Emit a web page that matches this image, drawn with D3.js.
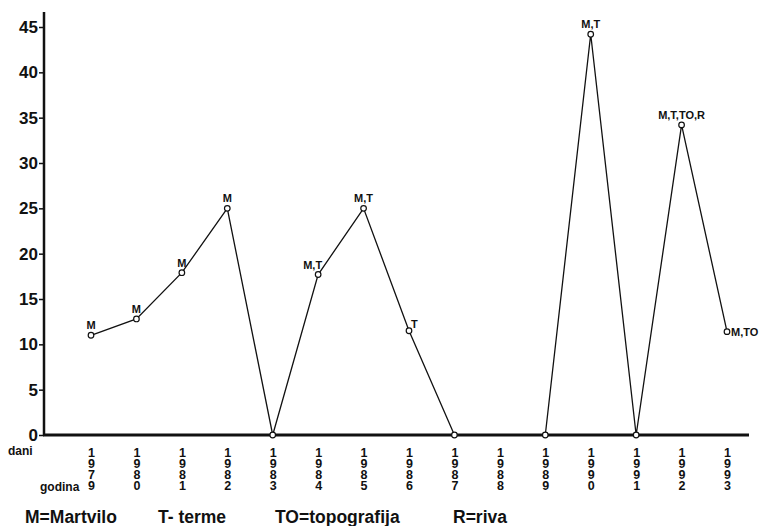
<!DOCTYPE html>
<html>
<head>
<meta charset="utf-8">
<script src="https://cdn.jsdelivr.net/npm/d3@7"></script>
<style>
  body { margin: 0; background: #fff; }
  svg { font-family: "Liberation Sans", Arial, sans-serif; }
</style>
</head>
<body>
<svg id="canvas"></svg>
<script>
const years = [1979, 1980, 1981, 1982, 1983, 1984, 1985, 1986, 1987, 1988, 1989, 1990, 1991, 1992, 1993];
const days = [11, 12.8, 17.9, 25, 0, 17.7, 25, 11.5, 0, null, 0, 44.2, 0, 34.2, 11.4];
const pointLabels = ["M", "M", "M", "M", "", "M,T", "M,T", "T", "", "", "", "M,T", "", "M,T,TO,R", "M,TO"];
const yTicks = [0, 5, 10, 15, 20, 25, 30, 35, 40, 45];
const legendItems = ["M=Martvilo", "T- terme", "TO=topografija", "R=riva"];

const width = 765;
const height = 526;

const canvas = d3.select("#canvas").attr("width", width).attr("height", height);

const xScale = d3.scaleLinear().domain([1979, 1993]).range([91, 727]);
const yScale = d3.scaleLinear().domain([0, 45]).range([435, 27]);

// y axis
const yAxis = d3.axisLeft(yScale).tickValues(yTicks).tickSize(5).tickPadding(1);
const gy = canvas.append("g").attr("transform", "translate(44,0)").call(yAxis);
gy.select(".domain").remove();
gy.selectAll(".tick line").attr("stroke", "#111").attr("stroke-width", 1.5);
gy.selectAll(".tick text")
  .attr("font-size", 17).attr("font-weight", "bold").attr("fill", "#111");
canvas.append("line")
  .attr("x1", 44).attr("x2", 44).attr("y1", 12).attr("y2", yScale(0) + 1)
  .attr("stroke", "#111").attr("stroke-width", 2.5);

// x axis, year digits stacked
const xAxis = d3.axisBottom(xScale).tickValues(years).tickSize(0).tickFormat("");
const gx = canvas.append("g").attr("transform", `translate(0,${yScale(0)})`).call(xAxis);
gx.select(".domain").remove();
canvas.append("line")
  .attr("x1", 43).attr("x2", 749).attr("y1", yScale(0)).attr("y2", yScale(0))
  .attr("stroke", "#111").attr("stroke-width", 3);

gx.selectAll(".tick").each(function (d) {
  const t = d3.select(this).append("text")
    .attr("text-anchor", "middle").attr("font-size", 12.5).attr("font-weight", "bold")
    .attr("fill", "#111");
  String(d).split("").forEach((c, i) => {
    t.append("tspan").attr("x", 0).attr("y", 22 + i * 11).text(c);
  });
});

canvas.append("text").attr("x", 8).attr("y", 455)
  .attr("font-size", 12).attr("font-weight", "bold").attr("fill", "#111").text("dani");
canvas.append("text").attr("x", 40).attr("y", 491)
  .attr("font-size", 12).attr("font-weight", "bold").attr("fill", "#111").text("godina");

// line and points
const line = d3.line()
  .defined((d) => d.v !== null)
  .x((d) => xScale(d.year))
  .y((d) => yScale(d.v));

const points = years.map((y, i) => ({ year: y, v: days[i], label: pointLabels[i] }));

canvas.append("path")
  .datum(points)
  .attr("d", line)
  .attr("fill", "none")
  .attr("stroke", "#111")
  .attr("stroke-width", 1.3);

canvas.selectAll("circle")
  .data(points.filter((d) => d.v !== null))
  .enter()
  .append("circle")
  .attr("cx", (d) => xScale(d.year))
  .attr("cy", (d) => yScale(d.v))
  .attr("r", 2.8)
  .attr("fill", "#fff")
  .attr("stroke", "#111")
  .attr("stroke-width", 1.2);

canvas.selectAll(".plabel")
  .data(points.filter((d) => d.label))
  .enter()
  .append("text")
  .attr("class", "plabel")
  .attr("font-size", 11)
  .attr("font-weight", "bold")
  .attr("fill", "#111")
  .attr("text-anchor", (d) => (d.year === 1993 || d.year === 1986 ? "start" : d.year === 1984 ? "end" : "middle"))
  .attr("x", (d) => {
    const x = xScale(d.year);
    if (d.year === 1993) return x + 4;
    if (d.year === 1986) return x + 2;
    if (d.year === 1984) return x + 4;
    return x;
  })
  .attr("y", (d) => {
    const y = yScale(d.v);
    if (d.year === 1993) return y + 4;
    if (d.year === 1986) return y - 3;
    return y - 6;
  })
  .text((d) => d.label);

// legend
const legendX = [25, 158, 275, 453];
canvas.selectAll(".legend")
  .data(legendItems)
  .enter()
  .append("text")
  .attr("class", "legend")
  .attr("x", (d, i) => legendX[i])
  .attr("y", 523)
  .attr("font-size", 17.5)
  .attr("font-weight", "bold")
  .attr("fill", "#111")
  .text((d) => d);
</script>
</body>
</html>
